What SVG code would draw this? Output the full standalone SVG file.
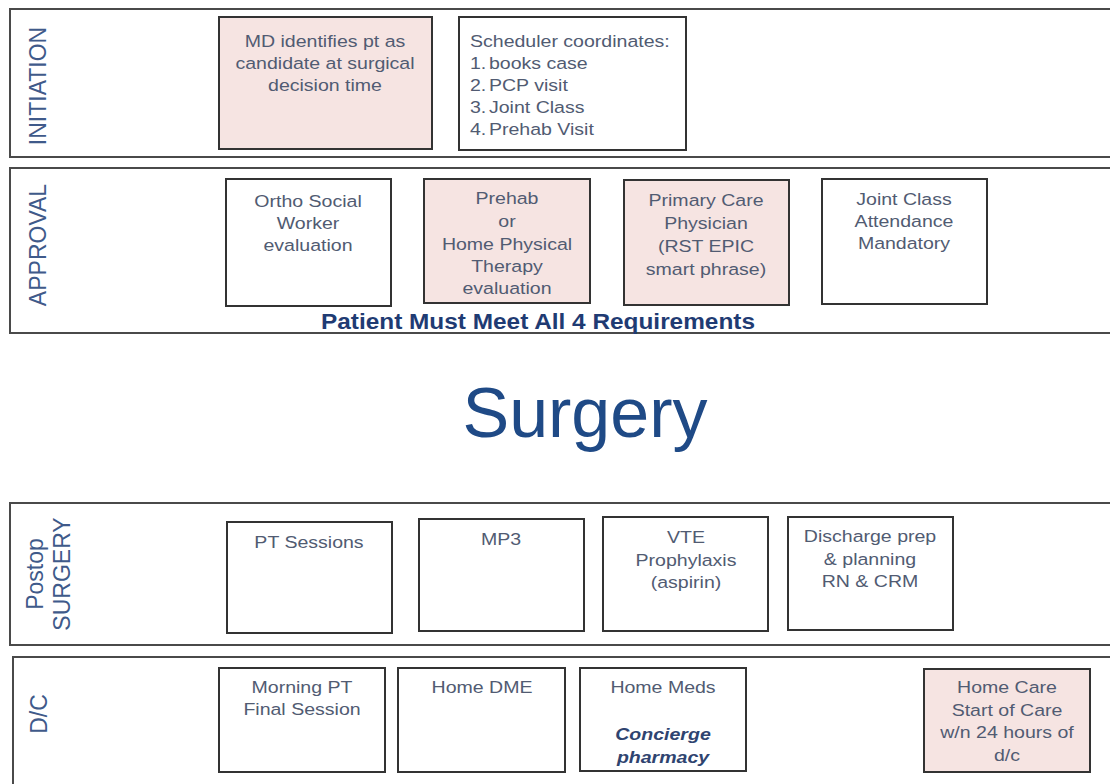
<svg xmlns="http://www.w3.org/2000/svg" width="1110" height="784" viewBox="0 0 1110 784">
<style>
.lane{fill:#fff;stroke:#4a4a4a;stroke-width:2}
.box{fill:#fff;stroke:#333;stroke-width:2}
.pink{fill:#f6e4e2}
.t{font-family:"Liberation Sans",Arial,sans-serif;font-size:17px;fill:#515b72;text-anchor:middle}
.tl{font-family:"Liberation Sans",Arial,sans-serif;font-size:17px;fill:#515b72}
.lbl{font-family:"Liberation Sans",Arial,sans-serif;font-size:23px;fill:#3f5a8a;text-anchor:middle}
.bi{font-weight:bold;font-style:italic;fill:#2f4470}
</style>
<rect width="1110" height="784" fill="#fff"/>
<g id="lane-initiation">
<rect class="lane" x="10" y="9" width="1110" height="148"/>
<text class="lbl" transform="translate(46,86) rotate(-90)">INITIATION</text>
</g>
<g id="lane-approval">
<rect class="lane" x="10" y="168" width="1110" height="165"/>
<text class="lbl" transform="translate(46,245) rotate(-90)">APPROVAL</text>
<text x="538" y="329" font-family="'Liberation Sans',Arial,sans-serif" font-size="22" font-weight="bold" fill="#1f3b73" text-anchor="middle" textLength="434" lengthAdjust="spacingAndGlyphs">Patient Must Meet All 4 Requirements</text>
</g>
<g id="surgery">
<text x="585" y="437" font-family="'Liberation Sans',Arial,sans-serif" font-size="70" fill="#1f4a86" text-anchor="middle">Surgery</text>
</g>
<g id="lane-postop">
<rect class="lane" x="10" y="503" width="1110" height="142"/>
<text class="lbl" transform="translate(43,574) rotate(-90)">Postop</text>
<text class="lbl" transform="translate(70,574) rotate(-90)">SURGERY</text>
</g>
<g id="lane-dc">
<rect class="lane" x="13" y="657" width="1110" height="140"/>
<text class="lbl" transform="translate(47,714) rotate(-90)">D/C</text>
</g>
<g id="connectors"></g>
<g id="md">
<rect class="box pink" x="219" y="17" width="213" height="132"/>
<text class="t" transform="translate(325,47) scale(1.15,1)">MD identifies pt as</text>
<text class="t" transform="translate(325,69) scale(1.15,1)">candidate at surgical</text>
<text class="t" transform="translate(325,91) scale(1.15,1)">decision time</text>
</g>
<g id="scheduler">
<rect class="box" x="459" y="17" width="227" height="133"/>
<text class="tl" transform="translate(470,47) scale(1.15,1)">Scheduler coordinates:</text>
<g transform="translate(470,69) scale(1.15,1)"><text class="tl">1.</text><text class="tl" x="16.5">books case</text></g>
<g transform="translate(470,91) scale(1.15,1)"><text class="tl">2.</text><text class="tl" x="16.5">PCP visit</text></g>
<g transform="translate(470,113) scale(1.15,1)"><text class="tl">3.</text><text class="tl" x="16.5">Joint Class</text></g>
<g transform="translate(470,135) scale(1.15,1)"><text class="tl">4.</text><text class="tl" x="16.5">Prehab Visit</text></g>
</g>
<g id="ortho">
<rect class="box" x="226" y="179" width="165" height="127"/>
<text class="t" transform="translate(308,207) scale(1.15,1)">Ortho Social</text>
<text class="t" transform="translate(308,229) scale(1.15,1)">Worker</text>
<text class="t" transform="translate(308,251) scale(1.15,1)">evaluation</text>
</g>
<g id="prehab">
<rect class="box pink" x="424" y="179" width="166" height="124"/>
<text class="t" transform="translate(507,204) scale(1.15,1)">Prehab</text>
<text class="t" transform="translate(507,227) scale(1.15,1)">or</text>
<text class="t" transform="translate(507,250) scale(1.15,1)">Home Physical</text>
<text class="t" transform="translate(507,272) scale(1.15,1)">Therapy</text>
<text class="t" transform="translate(507,294) scale(1.15,1)">evaluation</text>
</g>
<g id="pcp">
<rect class="box pink" x="624" y="180" width="165" height="125"/>
<text class="t" transform="translate(706,206) scale(1.15,1)">Primary Care</text>
<text class="t" transform="translate(706,229) scale(1.15,1)">Physician</text>
<text class="t" transform="translate(706,252) scale(1.15,1)">(RST EPIC</text>
<text class="t" transform="translate(706,275) scale(1.15,1)">smart phrase)</text>
</g>
<g id="jointclass">
<rect class="box" x="822" y="179" width="165" height="125"/>
<text class="t" transform="translate(904,205) scale(1.15,1)">Joint Class</text>
<text class="t" transform="translate(904,227) scale(1.15,1)">Attendance</text>
<text class="t" transform="translate(904,249) scale(1.15,1)">Mandatory</text>
</g>
<g id="pt">
<rect class="box" x="227" y="522" width="165" height="111"/>
<text class="t" transform="translate(309,548) scale(1.15,1)">PT Sessions</text>
</g>
<g id="mp3">
<rect class="box" x="419" y="519" width="165" height="112"/>
<text class="t" transform="translate(501,545) scale(1.15,1)">MP3</text>
</g>
<g id="vte">
<rect class="box" x="603" y="517" width="165" height="114"/>
<text class="t" transform="translate(686,543) scale(1.15,1)">VTE</text>
<text class="t" transform="translate(686,566) scale(1.15,1)">Prophylaxis</text>
<text class="t" transform="translate(686,588) scale(1.15,1)">(aspirin)</text>
</g>
<g id="discharge">
<rect class="box" x="788" y="517" width="165" height="113"/>
<text class="t" transform="translate(870,542) scale(1.15,1)">Discharge prep</text>
<text class="t" transform="translate(870,565) scale(1.15,1)">&amp; planning</text>
<text class="t" transform="translate(870,587) scale(1.15,1)">RN &amp; CRM</text>
</g>
<g id="morningpt">
<rect class="box" x="219" y="668" width="166" height="104"/>
<text class="t" transform="translate(302,693) scale(1.15,1)">Morning PT</text>
<text class="t" transform="translate(302,715) scale(1.15,1)">Final Session</text>
</g>
<g id="homedme">
<rect class="box" x="398" y="668" width="167" height="104"/>
<text class="t" transform="translate(482,693) scale(1.15,1)">Home DME</text>
</g>
<g id="homemeds">
<rect class="box" x="580" y="668" width="166" height="103"/>
<text class="t" transform="translate(663,693) scale(1.15,1)">Home Meds</text>
<text class="t bi" transform="translate(663,740) scale(1.15,1)">Concierge</text>
<text class="t bi" transform="translate(663,763) scale(1.15,1)">pharmacy</text>
</g>
<g id="homecare">
<rect class="box pink" x="924" y="669" width="166" height="103"/>
<text class="t" transform="translate(1007,693) scale(1.15,1)">Home Care</text>
<text class="t" transform="translate(1007,716) scale(1.15,1)">Start of Care</text>
<text class="t" transform="translate(1007,738) scale(1.15,1)">w/n 24 hours  of</text>
<text class="t" transform="translate(1007,761) scale(1.15,1)">d/c</text>
</g>
</svg>
